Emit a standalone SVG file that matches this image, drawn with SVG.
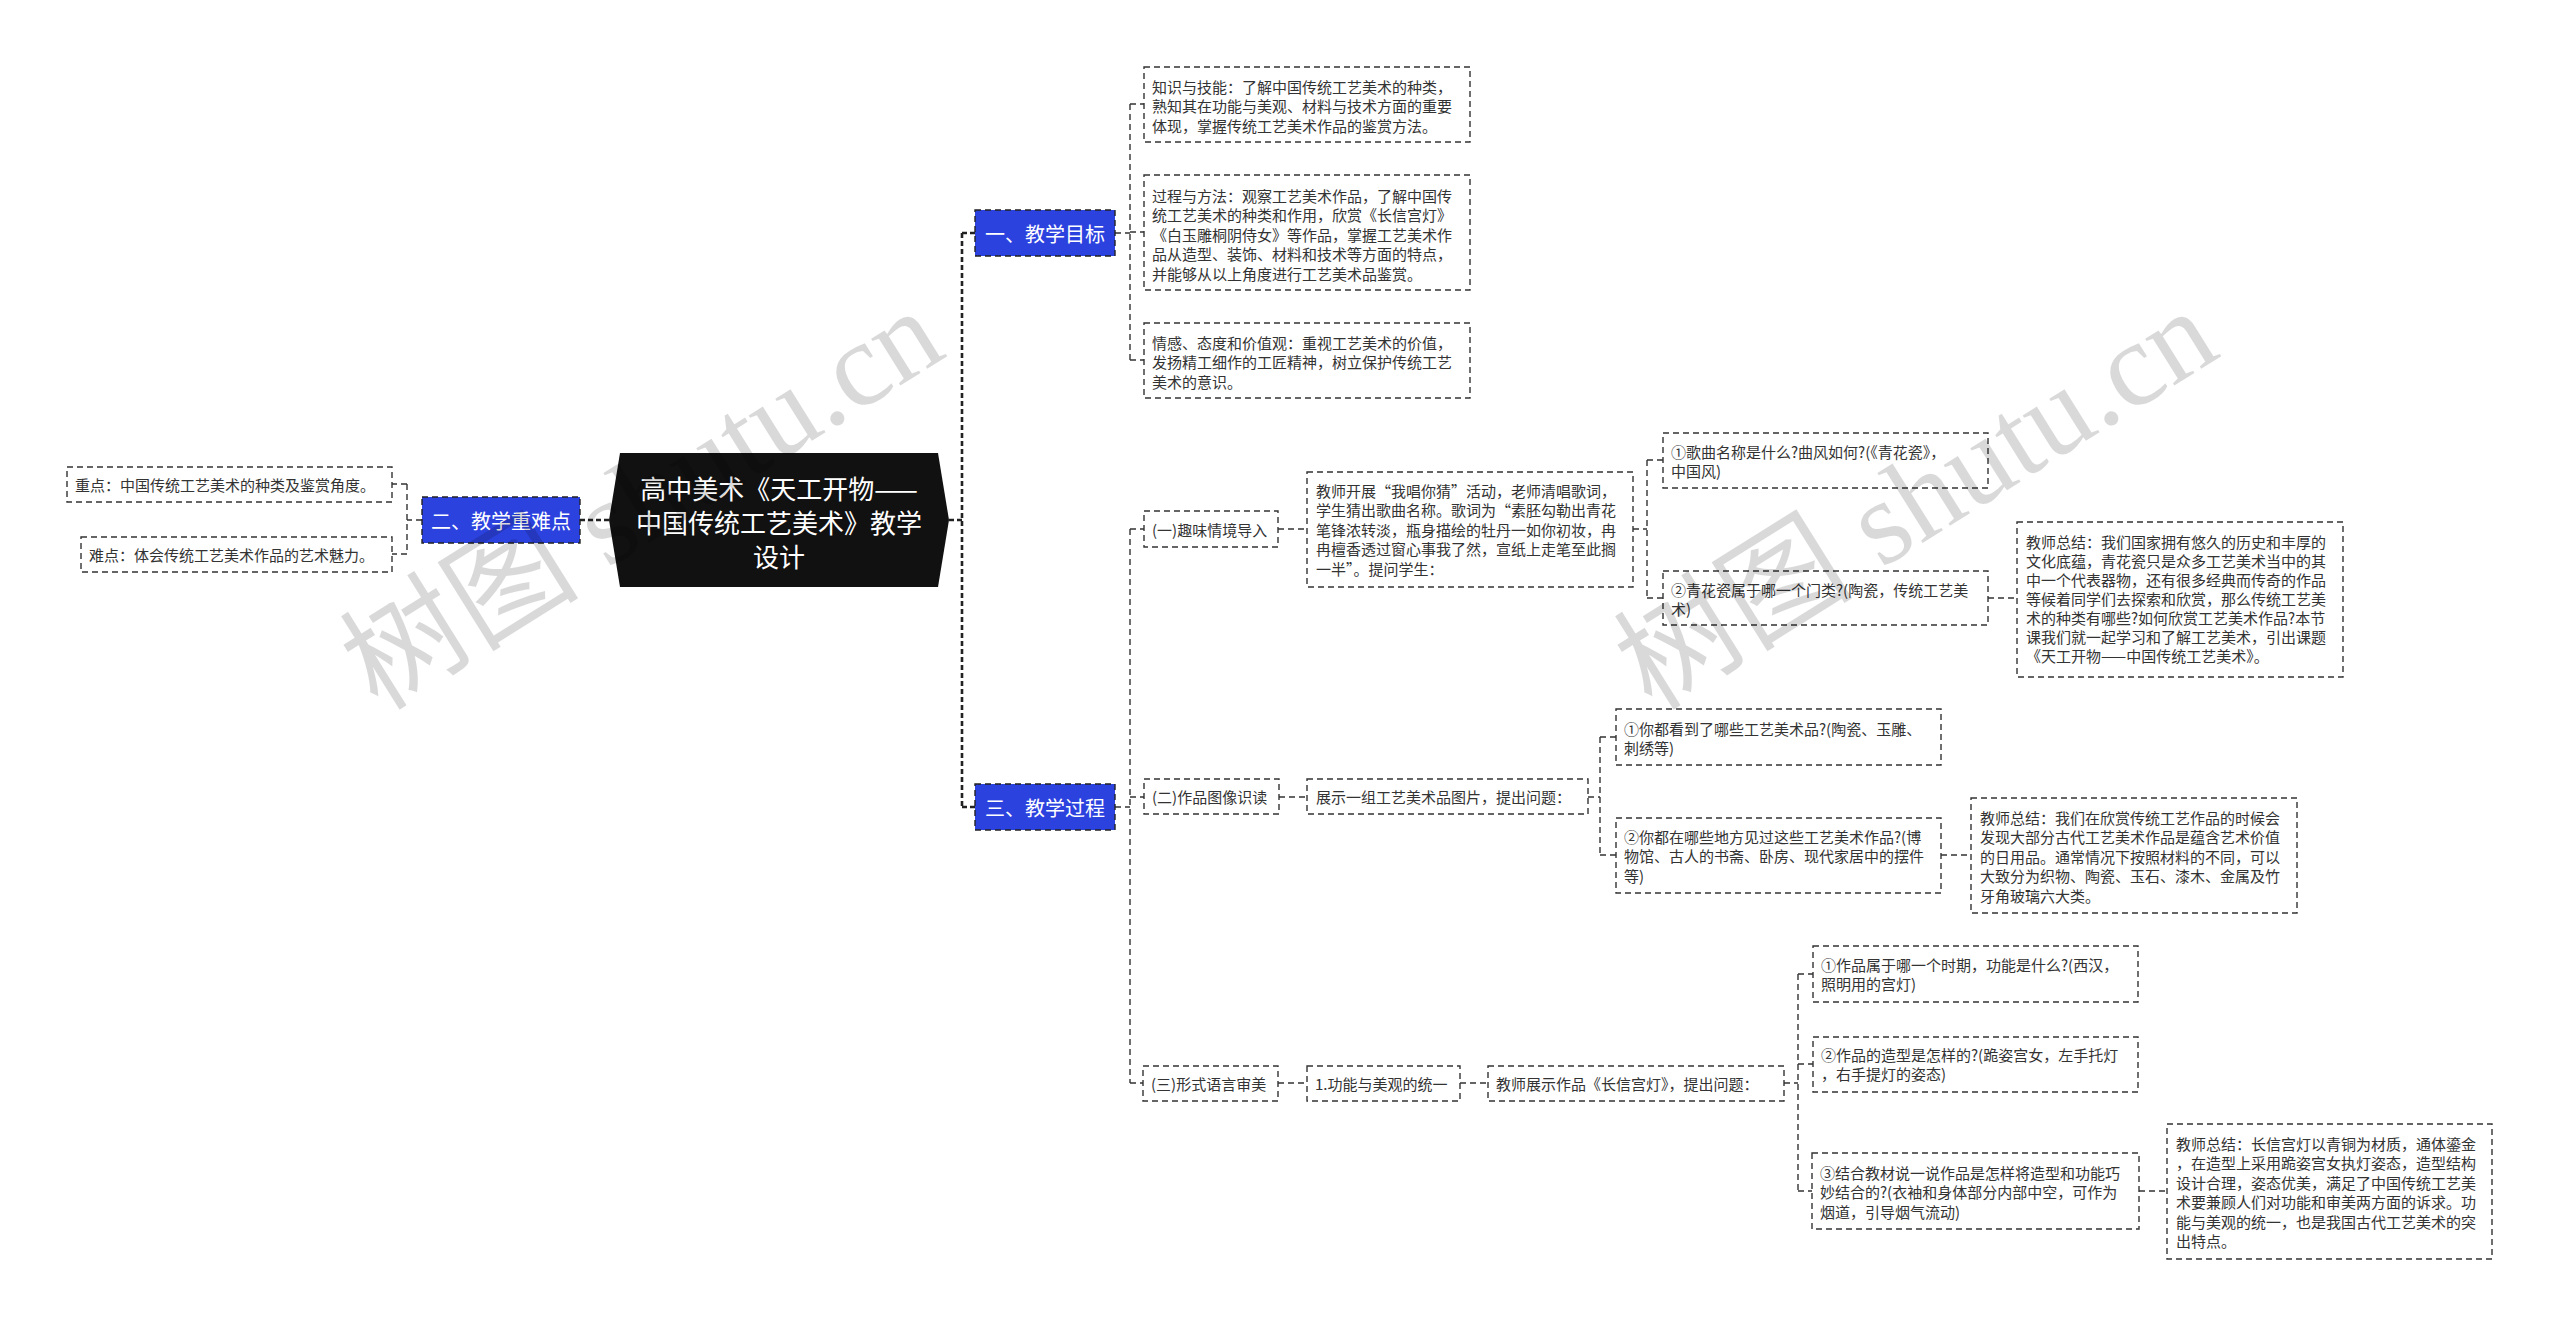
<svg xmlns="http://www.w3.org/2000/svg" width="2560" height="1326" viewBox="0 0 2560 1326">
<style>
.bg{fill:#fff}
.box{fill:#fff;stroke:#333;stroke-width:1.4;stroke-dasharray:6 4}
.blue{fill:#2c42df;stroke:#222;stroke-width:1.4;stroke-dasharray:6 4}
.root{fill:#111}
.t{font-family:"Noto Sans CJK SC","Liberation Sans",sans-serif;font-size:15px;fill:#333;dominant-baseline:central}
.tw{font-family:"Noto Sans CJK SC","Liberation Sans",sans-serif;font-size:20px;fill:#fff;dominant-baseline:central;text-anchor:middle}
.tr{font-family:"Noto Sans CJK SC","Liberation Sans",sans-serif;font-size:26px;fill:#fff;dominant-baseline:central;text-anchor:middle}
.conn{fill:none;stroke:#333;stroke-width:1.4;stroke-dasharray:6 4}
.main{fill:none;stroke:#222;stroke-width:2.6;stroke-dasharray:5 3}
.wm{font-family:"Liberation Serif","Noto Sans CJK SC",serif;font-size:120px;fill:#000;fill-opacity:0.15}
</style>
<rect class="bg" x="0" y="0" width="2560" height="1326"/>

<g id="connectors">
<path class="main" d="M949 520 H962 M962 233 V807 M962 233 H975 M962 807 H975 M609 520 H580"/>
<path class="conn" d="M422 520 H407 M407 484 V554 M407 484 H392 M407 554 H392"/>
<path class="conn" d="M1115 233 H1130 M1130 104 V360 M1130 104 H1144 M1130 232 H1144 M1130 360 H1144"/>
<path class="conn" d="M1115 807 H1130 M1130 529 V1083 M1130 529 H1144 M1130 797 H1144 M1130 1083 H1143"/>
<path class="conn" d="M1278 529 H1307 M1633 529 H1647 M1647 460 V598 M1647 460 H1663 M1647 598 H1663 M1988 598 H2017"/>
<path class="conn" d="M1279 797 H1307 M1588 797 H1600 M1600 737 V855 M1600 737 H1616 M1600 855 H1616 M1941 855 H1971"/>
<path class="conn" d="M1278 1083 H1307 M1460 1083 H1488 M1784 1083 H1798 M1798 974 V1191 M1798 974 H1813 M1798 1064 H1813 M1798 1191 H1812 M2139 1191 H2167"/>
</g>

<g id="root">
<polygon class="root" points="620,453 938,453 949,520 938,587 620,587 609,520"/>
<text class="tr" x="779" y="487">高中美术《天工开物——</text>
<text class="tr" x="779" y="521">中国传统工艺美术》教学</text>
<text class="tr" x="779" y="555">设计</text>
</g>

<g id="n-goal">
<rect class="blue" x="975" y="210" width="140" height="46"/>
<text class="tw" x="1045" y="233">一、教学目标</text>
</g>
<g id="n-key">
<rect class="blue" x="422" y="497" width="158" height="46"/>
<text class="tw" x="501" y="520">二、教学重难点</text>
</g>
<g id="n-process">
<rect class="blue" x="975" y="784" width="140" height="46"/>
<text class="tw" x="1045" y="807">三、教学过程</text>
</g>

<g id="n-zd">
<rect class="box" x="67" y="467" width="325" height="35"/>
<text class="t" x="75" y="484.5">重点：中国传统工艺美术的种类及鉴赏角度。</text>
</g>
<g id="n-nd">
<rect class="box" x="81" y="537" width="311" height="35"/>
<text class="t" x="89" y="554.5">难点：体会传统工艺美术作品的艺术魅力。</text>
</g>

<g id="n-g1">
<rect class="box" x="1144" y="67" width="326" height="75"/>
<text class="t" x="1152" y="86">知识与技能：了解中国传统工艺美术的种类，</text>
<text class="t" x="1152" y="105.5">熟知其在功能与美观、材料与技术方面的重要</text>
<text class="t" x="1152" y="125">体现，掌握传统工艺美术作品的鉴赏方法。</text>
</g>
<g id="n-g2">
<rect class="box" x="1144" y="175" width="326" height="115"/>
<text class="t" x="1152" y="195">过程与方法：观察工艺美术作品，了解中国传</text>
<text class="t" x="1152" y="214.5">统工艺美术的种类和作用，欣赏《长信宫灯》</text>
<text class="t" x="1152" y="234">《白玉雕桐阴侍女》等作品，掌握工艺美术作</text>
<text class="t" x="1152" y="253.5">品从造型、装饰、材料和技术等方面的特点，</text>
<text class="t" x="1152" y="273">并能够从以上角度进行工艺美术品鉴赏。</text>
</g>
<g id="n-g3">
<rect class="box" x="1144" y="323" width="326" height="75"/>
<text class="t" x="1152" y="342">情感、态度和价值观：重视工艺美术的价值，</text>
<text class="t" x="1152" y="361.5">发扬精工细作的工匠精神，树立保护传统工艺</text>
<text class="t" x="1152" y="381">美术的意识。</text>
</g>

<g id="n-p1">
<rect class="box" x="1144" y="511" width="134" height="36"/>
<text class="t" x="1152" y="529">(一)趣味情境导入</text>
</g>
<g id="n-p1-t">
<rect class="box" x="1307" y="472" width="326" height="115"/>
<text class="t" x="1316" y="490">教师开展“我唱你猜”活动，老师清唱歌词，</text>
<text class="t" x="1316" y="509.5">学生猜出歌曲名称。歌词为“素胚勾勒出青花</text>
<text class="t" x="1316" y="529">笔锋浓转淡，瓶身描绘的牡丹一如你初妆，冉</text>
<text class="t" x="1316" y="548.5">冉檀香透过窗心事我了然，宣纸上走笔至此搁</text>
<text class="t" x="1316" y="568">一半”。提问学生：</text>
</g>
<g id="n-p1-q1">
<rect class="box" x="1663" y="433" width="325" height="55"/>
<text class="t" x="1671" y="451">①歌曲名称是什么?曲风如何?(《青花瓷》，</text>
<text class="t" x="1671" y="470.5">中国风)</text>
</g>
<g id="n-p1-q2">
<rect class="box" x="1663" y="571" width="325" height="54"/>
<text class="t" x="1671" y="589">②青花瓷属于哪一个门类?(陶瓷，传统工艺美</text>
<text class="t" x="1671" y="608.5">术)</text>
</g>
<g id="n-p1-s">
<rect class="box" x="2017" y="522" width="326" height="155"/>
<text class="t" x="2026" y="541">教师总结：我们国家拥有悠久的历史和丰厚的</text>
<text class="t" x="2026" y="560">文化底蕴，青花瓷只是众多工艺美术当中的其</text>
<text class="t" x="2026" y="579">中一个代表器物，还有很多经典而传奇的作品</text>
<text class="t" x="2026" y="598">等候着同学们去探索和欣赏，那么传统工艺美</text>
<text class="t" x="2026" y="617">术的种类有哪些?如何欣赏工艺美术作品?本节</text>
<text class="t" x="2026" y="636">课我们就一起学习和了解工艺美术，引出课题</text>
<text class="t" x="2026" y="655">《天工开物——中国传统工艺美术》。</text>
</g>

<g id="n-p2">
<rect class="box" x="1144" y="779" width="135" height="35"/>
<text class="t" x="1152" y="796.5">(二)作品图像识读</text>
</g>
<g id="n-p2-t">
<rect class="box" x="1307" y="779" width="281" height="35"/>
<text class="t" x="1316" y="796.5">展示一组工艺美术品图片，提出问题：</text>
</g>
<g id="n-p2-q1">
<rect class="box" x="1616" y="709" width="325" height="56"/>
<text class="t" x="1624" y="728">①你都看到了哪些工艺美术品?(陶瓷、玉雕、</text>
<text class="t" x="1624" y="747.5">刺绣等)</text>
</g>
<g id="n-p2-q2">
<rect class="box" x="1616" y="818" width="325" height="75"/>
<text class="t" x="1624" y="836">②你都在哪些地方见过这些工艺美术作品?(博</text>
<text class="t" x="1624" y="855.5">物馆、古人的书斋、卧房、现代家居中的摆件</text>
<text class="t" x="1624" y="875">等)</text>
</g>
<g id="n-p2-s">
<rect class="box" x="1971" y="798" width="326" height="115"/>
<text class="t" x="1980" y="817">教师总结：我们在欣赏传统工艺作品的时候会</text>
<text class="t" x="1980" y="836.5">发现大部分古代工艺美术作品是蕴含艺术价值</text>
<text class="t" x="1980" y="856">的日用品。通常情况下按照材料的不同，可以</text>
<text class="t" x="1980" y="875.5">大致分为织物、陶瓷、玉石、漆木、金属及竹</text>
<text class="t" x="1980" y="895">牙角玻璃六大类。</text>
</g>

<g id="n-p3">
<rect class="box" x="1143" y="1066" width="135" height="35"/>
<text class="t" x="1151" y="1083.5">(三)形式语言审美</text>
</g>
<g id="n-p3-a">
<rect class="box" x="1307" y="1066" width="153" height="35"/>
<text class="t" x="1315" y="1083.5">1.功能与美观的统一</text>
</g>
<g id="n-p3-t">
<rect class="box" x="1488" y="1066" width="296" height="35"/>
<text class="t" x="1496" y="1083.5">教师展示作品《长信宫灯》，提出问题：</text>
</g>
<g id="n-p3-q1">
<rect class="box" x="1813" y="946" width="325" height="56"/>
<text class="t" x="1821" y="964">①作品属于哪一个时期，功能是什么?(西汉，</text>
<text class="t" x="1821" y="983.5">照明用的宫灯)</text>
</g>
<g id="n-p3-q2">
<rect class="box" x="1813" y="1037" width="325" height="55"/>
<text class="t" x="1821" y="1054">②作品的造型是怎样的?(跪姿宫女，左手托灯</text>
<text class="t" x="1821" y="1073.5">，右手提灯的姿态)</text>
</g>
<g id="n-p3-q3">
<rect class="box" x="1812" y="1153" width="327" height="76"/>
<text class="t" x="1820" y="1172">③结合教材说一说作品是怎样将造型和功能巧</text>
<text class="t" x="1820" y="1191.5">妙结合的?(衣袖和身体部分内部中空，可作为</text>
<text class="t" x="1820" y="1211">烟道，引导烟气流动)</text>
</g>
<g id="n-p3-s">
<rect class="box" x="2167" y="1124" width="325" height="135"/>
<text class="t" x="2176" y="1143">教师总结：长信宫灯以青铜为材质，通体鎏金</text>
<text class="t" x="2176" y="1162.5">，在造型上采用跪姿宫女执灯姿态，造型结构</text>
<text class="t" x="2176" y="1182">设计合理，姿态优美，满足了中国传统工艺美</text>
<text class="t" x="2176" y="1201.5">术要兼顾人们对功能和审美两方面的诉求。功</text>
<text class="t" x="2176" y="1221">能与美观的统一，也是我国古代工艺美术的突</text>
<text class="t" x="2176" y="1240.5">出特点。</text>
</g>

<g id="watermark">
<text class="wm" transform="translate(378,712) rotate(-32)">树图 shutu.cn</text>
<text class="wm" transform="translate(1652,712) rotate(-32)">树图 shutu.cn</text>
</g>
</svg>
